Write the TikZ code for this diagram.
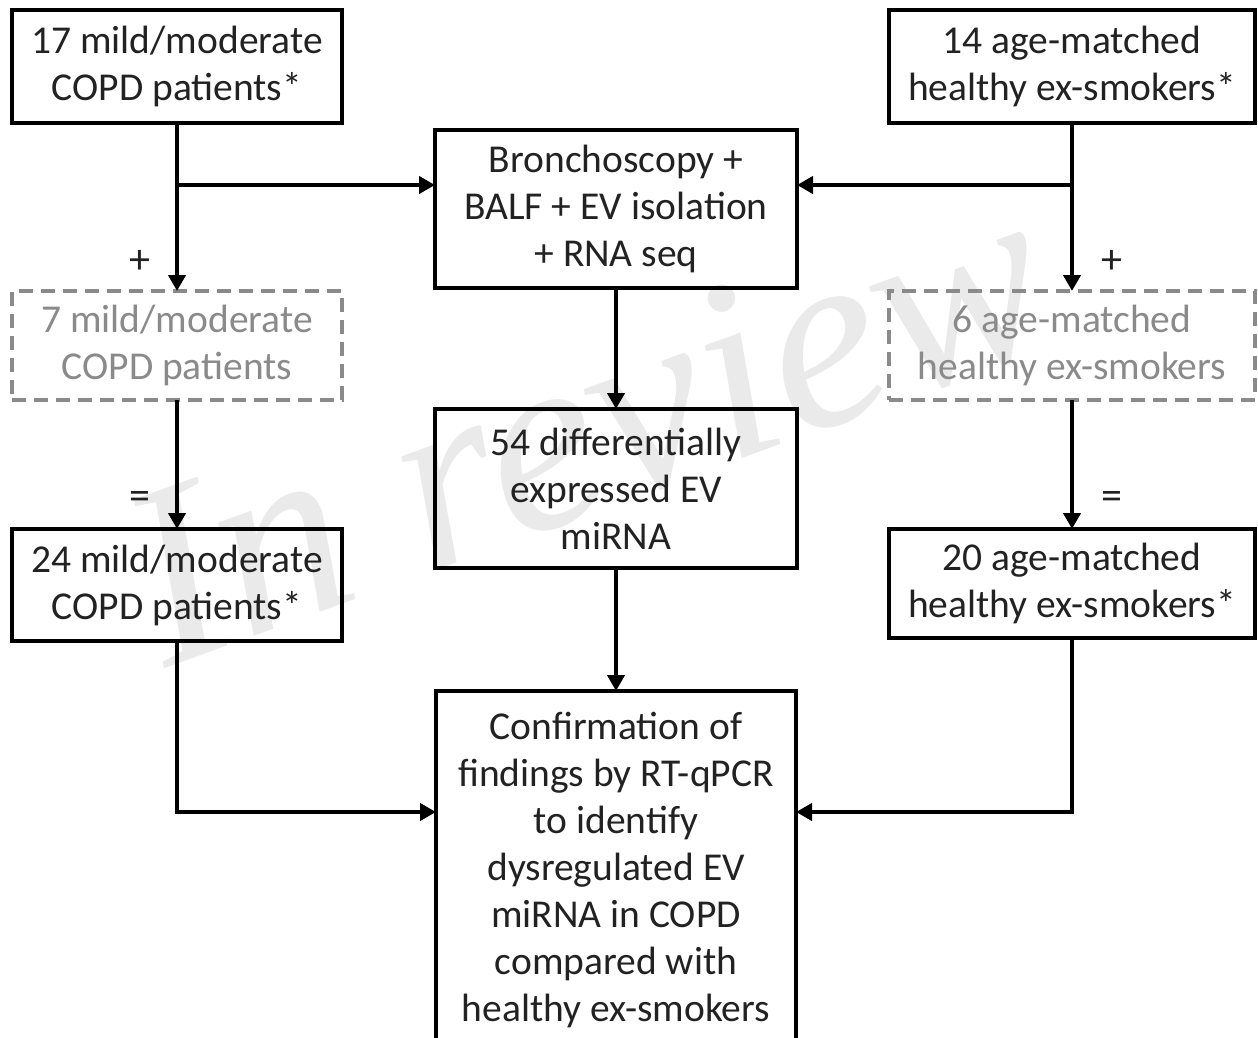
\documentclass[tikz,border=0pt]{standalone}
\usepackage{fontspec}
\setmainfont{Carlito}
\newfontfamily\wmfont{Liberation Serif}
\usetikzlibrary{arrows.meta}
\definecolor{txt}{HTML}{222222}
\definecolor{dgray}{HTML}{8A8A8A}
\definecolor{wm}{HTML}{EAEAEA}
\tikzset{
  box/.style={draw=black, line width=4pt, align=center, text=txt, inner sep=0pt, outer sep=0pt,
    font=\fontsize{39.5}{47}\selectfont},
  dbox/.style={box, draw=dgray, text=dgray, dash pattern=on 14pt off 8pt},
  arr/.style={line width=4pt, -{Triangle[length=16pt,width=17pt]}},
  lbl/.style={text=txt, font=\fontsize{42}{44}\selectfont, inner sep=0pt},
}
\begin{document}
\begin{tikzpicture}[x=1pt,y=-1pt]
\useasboundingbox (0,0) rectangle (1258,1038);
\clip (0,0) rectangle (1258,1038);
% watermark
\node[rotate=20, text=wm, font=\wmfont\itshape\fontsize{258}{258}\selectfont, anchor=base, inner sep=0pt] (wmk) at (615,505) {In review};
% boxes
\node[box, minimum width=330pt, minimum height=113pt] (A) at (177,66.5) {17 mild/moderate\\COPD patients*};
\node[box, minimum width=366pt, minimum height=113pt] (B) at (1072,66.5) {14 age-matched\\healthy ex-smokers*};
\node[box, minimum width=362pt, minimum height=158pt] (C) at (616,209) {Bronchoscopy +\\BALF + EV isolation\\+ RNA seq};
\node[dbox, minimum width=330pt, minimum height=109pt] (D) at (177,345.5) {7 mild/moderate\\COPD patients};
\node[dbox, minimum width=366pt, minimum height=109pt] (E) at (1072,345.5) {6 age-matched\\healthy ex-smokers};
\node[box, minimum width=362pt, minimum height=159pt] (F) at (616,488.5) {54 differentially\\expressed EV\\miRNA};
\node[box, minimum width=330pt, minimum height=112pt] (G) at (177,585) {24 mild/moderate\\COPD patients*};
\node[box, minimum width=366pt, minimum height=109pt] (H) at (1072,583.5) {20 age-matched\\healthy ex-smokers*};
\node[box, minimum width=360pt, minimum height=358pt] (I) at (616,870) {Confirmation of\\findings by RT-qPCR\\to identify\\dysregulated EV\\miRNA in COPD\\compared with\\healthy ex-smokers};
% labels
\node[lbl] (p1) at (140,262) {+};
\node[lbl] (p2) at (1112,262) {+};
\node[lbl] (e1) at (140,500) {=};
\node[lbl] (e2) at (1112,500) {=};
% connectors
\coordinate (ja) at (177,185);
\coordinate (jb) at (1072,185);
\coordinate (ji) at (616,812);
\draw[arr] (A.south) -- (D.north);
\draw[arr] (ja) -- (ja -| C.west);
\draw[arr] (B.south) -- (E.north);
\draw[arr] (jb) -- (jb -| C.east);
\draw[arr] (C.south) -- (F.north);
\draw[arr] (D.south) -- (G.north);
\draw[arr] (E.south) -- (H.north);
\draw[arr] (F.south) -- (I.north);
\draw[arr] (G.south) |- (ji -| I.west);
\draw[arr] (H.south) |- (ji -| I.east);
\end{tikzpicture}
\end{document}
